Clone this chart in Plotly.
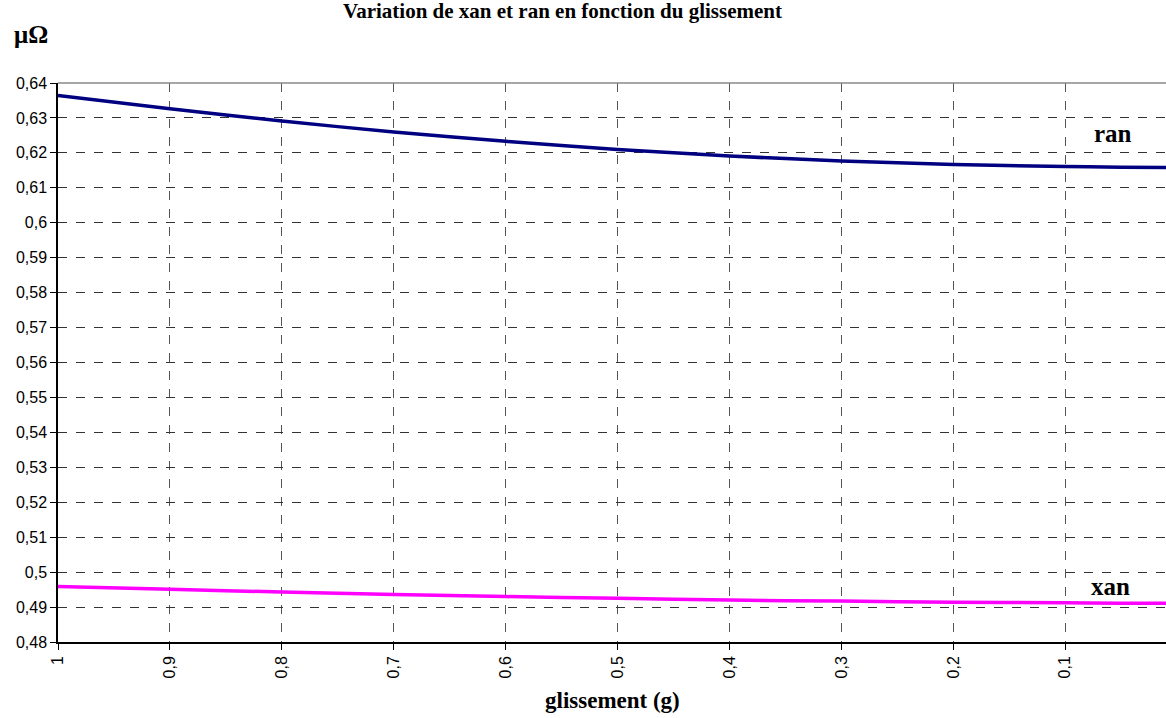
import plotly.graph_objects as go

# glissement values (x axis runs from 1 down to 0.01)
g = [1, 0.9, 0.8, 0.7, 0.6, 0.5, 0.4, 0.3, 0.2, 0.1, 0.05, 0.01]

ran = [0.6364, 0.6326, 0.6291, 0.6260, 0.6233, 0.6210, 0.6191, 0.6177, 0.6167, 0.6161, 0.6159, 0.6158]
xan = [0.4959, 0.4951, 0.4943, 0.4936, 0.4930, 0.4925, 0.4920, 0.4917, 0.4914, 0.4912, 0.4911, 0.4911]

x_ticks = [1, 0.9, 0.8, 0.7, 0.6, 0.5, 0.4, 0.3, 0.2, 0.1]

serif = "Liberation Serif, Times New Roman, serif"
sans = "Liberation Sans, Arial, sans-serif"

fig = go.Figure()

fig.add_trace(go.Scatter(x=g, y=ran, mode="lines", name="ran",
                         line=dict(color="#000080", width=3.5, shape="spline", smoothing=0.8)))
fig.add_trace(go.Scatter(x=g, y=xan, mode="lines", name="xan",
                         line=dict(color="#FF00FF", width=3.5, shape="spline", smoothing=0.8)))

fig.update_layout(
    width=1166,
    height=718,
    margin=dict(l=58, r=0, t=83, b=76),
    paper_bgcolor="white",
    plot_bgcolor="white",
    showlegend=False,
    separators=", ",
    title=dict(text="<b>Variation de xan et ran en fonction du glissement</b>",
               x=0.4824, xanchor="center", y=0.985, yanchor="middle",
               font=dict(family=serif, size=21, color="black")),
    font=dict(family=sans, size=16, color="black"),
)

fig.update_xaxes(
    range=[1, 0.01],
    tickvals=x_ticks,
    tickformat=".1~f",
    tickangle=-90,
    ticks="outside", ticklen=6, tickcolor="black",
    showline=True, linecolor="black", linewidth=1.5,
    showgrid=True, gridcolor="#555555", griddash="dash", gridwidth=1,
    zeroline=False,
    tickfont=dict(family=sans, size=16, color="black"),
)

fig.update_yaxes(
    range=[0.48, 0.64],
    dtick=0.01,
    tick0=0.48,
    tickformat=".2~f",
    ticks="outside", ticklen=6, tickcolor="black",
    showline=True, linecolor="black", linewidth=1.5,
    showgrid=True, gridcolor="#333333", griddash="dash", gridwidth=1,
    zeroline=False,
    tickfont=dict(family=sans, size=16, color="black"),
)

# top border of the plot area
fig.add_shape(type="line", xref="paper", yref="paper", x0=0, x1=1, y0=1, y1=1,
              line=dict(color="#888888", width=1.5))

fig.add_annotation(text="<b>glissement (g)</b>", xref="paper", yref="paper",
                   x=0.5005, y=-0.1038, xanchor="center", yanchor="middle",
                   showarrow=False, font=dict(family=serif, size=23, color="black"))
fig.add_annotation(text="<b>μΩ</b>", xref="paper", yref="paper",
                   x=-0.0415, y=1.0866, xanchor="left", yanchor="middle",
                   showarrow=False, font=dict(family=serif, size=25, color="black"))
fig.add_annotation(text="<b>ran</b>", xref="x", yref="y", x=0.0572, y=0.6255,
                   showarrow=False, font=dict(family=serif, size=25, color="black"))
fig.add_annotation(text="<b>xan</b>", xref="x", yref="y", x=0.060, y=0.4960,
                   showarrow=False, font=dict(family=serif, size=25, color="black"))

fig.write_html("out.html", config={"displayModeBar": False},
               post_script="document.body.style.margin='0';document.body.style.overflow='hidden';")
